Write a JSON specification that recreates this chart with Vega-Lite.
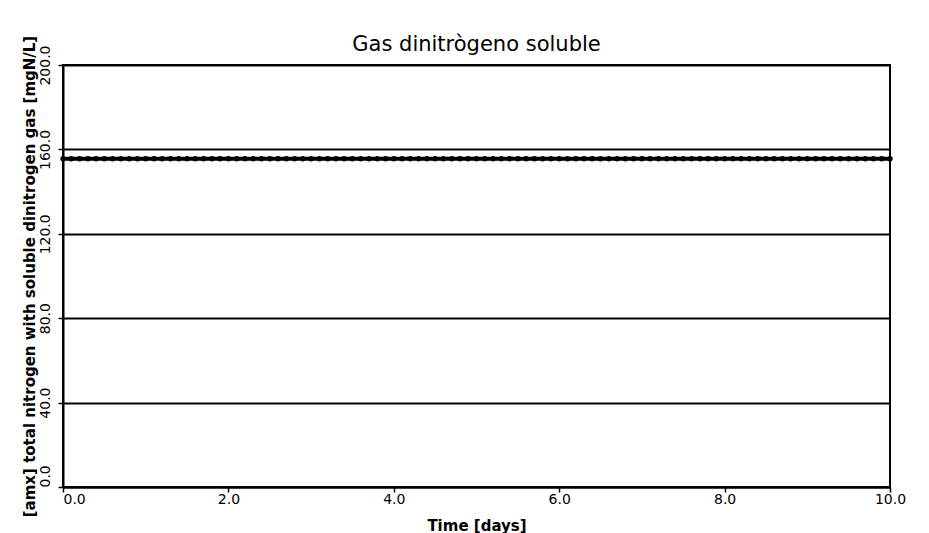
{
  "$schema": "https://vega.github.io/schema/vega-lite/v6.json",
  "width": 827,
  "height": 422,
  "autosize": "none",
  "padding": {"left": 63, "top": 65, "right": 39, "bottom": 46},
  "background": "white",
  "title": {
    "text": "Gas dinitrògeno soluble",
    "font": "DejaVu Sans",
    "fontSize": 21,
    "fontWeight": "normal",
    "color": "black",
    "anchor": "middle",
    "frame": "group",
    "baseline": "alphabetic",
    "offset": -37
  },
  "config": {
    "view": {"stroke": "black", "strokeWidth": 2},
    "axis": {
      "labelFont": "DejaVu Sans",
      "labelFontSize": 14,
      "labelColor": "black",
      "titleFont": "DejaVu Sans",
      "titleFontSize": 15,
      "titleFontWeight": "bold",
      "titleColor": "black",
      "domainColor": "black",
      "domainWidth": 2,
      "tickColor": "black",
      "tickWidth": 1.5,
      "tickSize": 5
    }
  },
  "data": {
    "values": [
      {"t": 0.0, "v": 155.6}, {"t": 0.1, "v": 155.6}, {"t": 0.2, "v": 155.6}, {"t": 0.3, "v": 155.6}, {"t": 0.4, "v": 155.6},
      {"t": 0.5, "v": 155.6}, {"t": 0.6, "v": 155.6}, {"t": 0.7, "v": 155.6}, {"t": 0.8, "v": 155.6}, {"t": 0.9, "v": 155.6},
      {"t": 1.0, "v": 155.6}, {"t": 1.1, "v": 155.6}, {"t": 1.2, "v": 155.6}, {"t": 1.3, "v": 155.6}, {"t": 1.4, "v": 155.6},
      {"t": 1.5, "v": 155.6}, {"t": 1.6, "v": 155.6}, {"t": 1.7, "v": 155.6}, {"t": 1.8, "v": 155.6}, {"t": 1.9, "v": 155.6},
      {"t": 2.0, "v": 155.6}, {"t": 2.1, "v": 155.6}, {"t": 2.2, "v": 155.6}, {"t": 2.3, "v": 155.6}, {"t": 2.4, "v": 155.6},
      {"t": 2.5, "v": 155.6}, {"t": 2.6, "v": 155.6}, {"t": 2.7, "v": 155.6}, {"t": 2.8, "v": 155.6}, {"t": 2.9, "v": 155.6},
      {"t": 3.0, "v": 155.6}, {"t": 3.1, "v": 155.6}, {"t": 3.2, "v": 155.6}, {"t": 3.3, "v": 155.6}, {"t": 3.4, "v": 155.6},
      {"t": 3.5, "v": 155.6}, {"t": 3.6, "v": 155.6}, {"t": 3.7, "v": 155.6}, {"t": 3.8, "v": 155.6}, {"t": 3.9, "v": 155.6},
      {"t": 4.0, "v": 155.6}, {"t": 4.1, "v": 155.6}, {"t": 4.2, "v": 155.6}, {"t": 4.3, "v": 155.6}, {"t": 4.4, "v": 155.6},
      {"t": 4.5, "v": 155.6}, {"t": 4.6, "v": 155.6}, {"t": 4.7, "v": 155.6}, {"t": 4.8, "v": 155.6}, {"t": 4.9, "v": 155.6},
      {"t": 5.0, "v": 155.6}, {"t": 5.1, "v": 155.6}, {"t": 5.2, "v": 155.6}, {"t": 5.3, "v": 155.6}, {"t": 5.4, "v": 155.6},
      {"t": 5.5, "v": 155.6}, {"t": 5.6, "v": 155.6}, {"t": 5.7, "v": 155.6}, {"t": 5.8, "v": 155.6}, {"t": 5.9, "v": 155.6},
      {"t": 6.0, "v": 155.6}, {"t": 6.1, "v": 155.6}, {"t": 6.2, "v": 155.6}, {"t": 6.3, "v": 155.6}, {"t": 6.4, "v": 155.6},
      {"t": 6.5, "v": 155.6}, {"t": 6.6, "v": 155.6}, {"t": 6.7, "v": 155.6}, {"t": 6.8, "v": 155.6}, {"t": 6.9, "v": 155.6},
      {"t": 7.0, "v": 155.6}, {"t": 7.1, "v": 155.6}, {"t": 7.2, "v": 155.6}, {"t": 7.3, "v": 155.6}, {"t": 7.4, "v": 155.6},
      {"t": 7.5, "v": 155.6}, {"t": 7.6, "v": 155.6}, {"t": 7.7, "v": 155.6}, {"t": 7.8, "v": 155.6}, {"t": 7.9, "v": 155.6},
      {"t": 8.0, "v": 155.6}, {"t": 8.1, "v": 155.6}, {"t": 8.2, "v": 155.6}, {"t": 8.3, "v": 155.6}, {"t": 8.4, "v": 155.6},
      {"t": 8.5, "v": 155.6}, {"t": 8.6, "v": 155.6}, {"t": 8.7, "v": 155.6}, {"t": 8.8, "v": 155.6}, {"t": 8.9, "v": 155.6},
      {"t": 9.0, "v": 155.6}, {"t": 9.1, "v": 155.6}, {"t": 9.2, "v": 155.6}, {"t": 9.3, "v": 155.6}, {"t": 9.4, "v": 155.6},
      {"t": 9.5, "v": 155.6}, {"t": 9.6, "v": 155.6}, {"t": 9.7, "v": 155.6}, {"t": 9.8, "v": 155.6}, {"t": 9.9, "v": 155.6},
      {"t": 10.0, "v": 155.6}
    ]
  },
  "mark": {
    "type": "line",
    "color": "black",
    "strokeWidth": 4,
    "point": {"filled": true, "color": "black", "size": 30}
  },
  "encoding": {
    "x": {
      "field": "t",
      "type": "quantitative",
      "scale": {"domain": [0, 10], "nice": false, "zero": false},
      "axis": {
        "title": "Time [days]",
        "values": [0, 2, 4, 6, 8, 10],
        "format": ".1f",
        "grid": false,
        "labelPadding": 0,
        "labelAlign": {"expr": "datum.value === 0 ? 'left' : 'center'"},
        "labelFlush": false,
        "titlePadding": 12
      }
    },
    "y": {
      "field": "v",
      "type": "quantitative",
      "scale": {"domain": [0, 200], "nice": false},
      "axis": {
        "title": "[amx] total nitrogen with soluble dinitrogen gas [mgN/L]",
        "values": [0, 40, 80, 120, 160, 200],
        "format": ".1f",
        "grid": true,
        "gridColor": "black",
        "gridWidth": 2,
        "gridOpacity": 1,
        "labelAngle": -90,
        "labelBaseline": "alphabetic",
        "labelAlign": {"expr": "datum.value === 0 ? 'left' : 'center'"},
        "labelFlush": false,
        "labelPadding": 9,
        "titlePadding": 1
      }
    }
  }
}
